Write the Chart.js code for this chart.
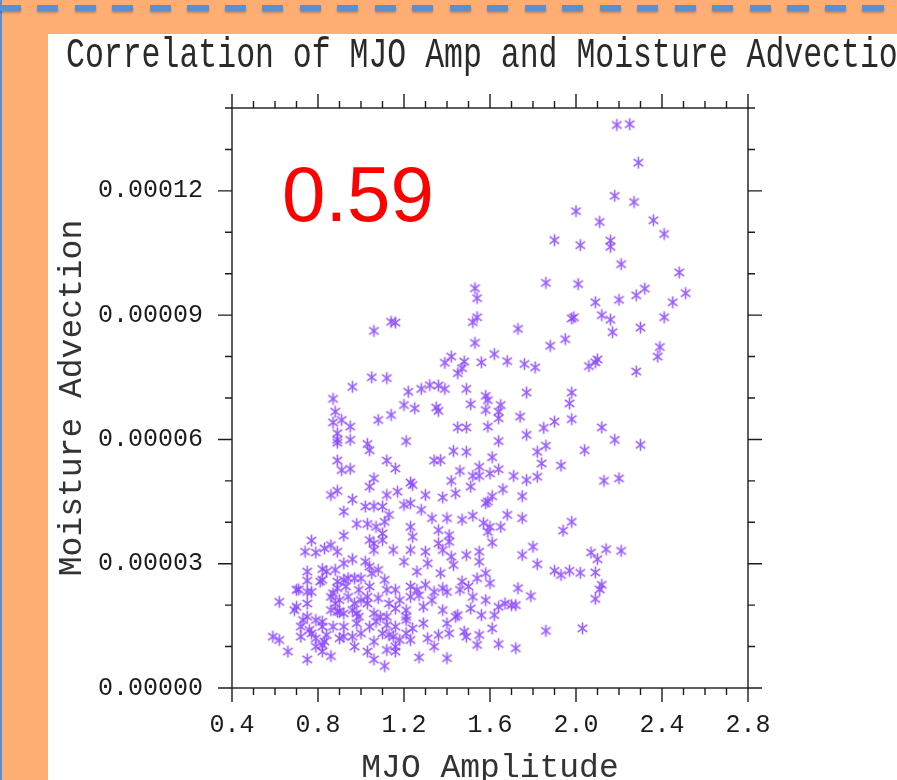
<!DOCTYPE html>
<html>
<head>
<meta charset="utf-8">
<script src="https://cdn.jsdelivr.net/npm/chart.js@4.4.1/dist/chart.umd.min.js"></script>
<style>
  html, body { margin: 0; padding: 0; width: 897px; height: 780px; overflow: hidden; background: #ffae73; }
  .edge { position: absolute; left: 0; top: 0; width: 2px; height: 780px; background: #5b8fd0; }
  .dash { position: absolute; left: 0; top: 5px; width: 897px; height: 6px;
          background: repeating-linear-gradient(to right, #5b8fd0 0 21px, transparent 21px 37.5px);
          filter: drop-shadow(0 2px 1px rgba(0,0,0,0.25)); }
  .panel { position: absolute; left: 48px; top: 34px; right: 0; bottom: 0; background: #fff; }
  canvas { position: absolute; left: 0; top: 0; }
</style>
</head>
<body>
<div class="panel"></div>
<div class="edge"></div>
<div class="dash"></div>
<canvas id="chart" width="897" height="800"></canvas>
<script>
// MJO amplitude (x) and moisture advection (y, in units of 1e-5)
const ADV_UNIT = 1e-5;

const mjoAmp = [
  // upper right
  2.19,2.25,2.29,2.18,2.27,2.00,2.11,2.36,2.41,1.90,
  2.02,2.16,2.16,2.21,2.48,1.86,2.01,2.32,2.28,2.51,
  2.20,2.09,2.45,1.53,1.54,1.54,1.52,1.73,1.98,1.99,
  2.12,2.16,2.41,2.30,2.17,1.53,1.95,1.88,2.39,2.38,
  1.62,1.42,1.39,1.48,1.47,1.45,1.56,1.68,1.76,1.81,
  2.06,2.09,2.10,2.28,
  1.06,1.14,1.16,
  // lower right
  1.77,1.98,1.97,1.98,1.90,1.85,2.12,2.18,2.30,1.77,
  1.86,1.82,2.04,1.84,1.93,1.82,1.77,2.13,2.20,1.98,
  1.94,1.80,1.82,1.90,1.93,1.97,2.02,2.07,2.14,2.21,
  2.10,2.09,2.12,2.11,2.09,1.79,1.86,2.03,
  // middle cluster
  1.22,1.28,1.32,1.36,1.39,1.49,1.58,1.59,1.20,1.25,
  1.35,1.36,1.51,1.58,1.65,1.64,1.64,1.74,1.45,1.49,
  1.59,1.21,1.64,1.43,1.49,1.34,1.37,1.61,1.16,1.46,
  1.55,1.52,1.55,1.60,1.64,1.71,1.23,1.24,1.42,1.17,
  1.51,1.66,1.61,1.75,1.20,1.23,1.30,1.38,1.44,1.58,
  1.59,1.68,1.28,1.33,1.40,1.47,1.52,1.57,1.75,1.23,
  1.36,1.60,1.65,1.59,1.41,1.24,1.61,1.36,1.41,1.15,
  1.23,1.30,1.38,1.49,1.55,1.75,1.20,1.31,1.42,1.55,
  1.26,1.43,1.37,1.58,1.47,1.54,1.60,1.73,1.16,1.23,
  1.26,1.30,1.38,1.40,1.46,1.50,1.52,1.58,1.33,1.34,
  1.18,1.23,1.27,1.67,1.70,1.72,1.64,1.16,1.21,1.29,
  1.38,1.45,1.51,1.56,1.62,1.21,1.29,1.40,1.44,1.16,
  1.24,1.48,1.61,1.41,1.36,1.49,1.55,1.15,1.31,1.34,
  1.54,1.64,1.72,1.16,1.23,1.16,1.27,1.40,
  // left cluster
  1.05,1.12,0.96,0.87,0.88,0.87,0.91,0.95,1.08,1.14,
  0.89,0.89,0.89,0.95,1.03,1.04,0.89,0.91,0.95,1.12,
  1.06,1.04,0.86,0.89,0.96,0.92,1.02,1.06,1.12,1.10,
  1.13,0.98,1.03,1.07,1.11,0.92,1.10,0.77,0.74,0.79,
  0.83,0.86,0.89,1.04,1.06,1.10,1.06,0.92,0.96,1.02,
  1.04,1.08,0.82,0.84,0.88,0.75,0.75,0.81,0.92,0.97,
  1.00,1.11,0.71,0.77,0.89,0.93,0.99,1.04,0.62,0.70,
  0.75,0.86,0.88,0.90,0.94,0.97,1.03,1.08,1.12,0.69,
  0.86,0.90,0.96,0.99,1.06,1.12,0.75,0.82,0.72,0.77,
  0.87,0.92,1.00,1.04,1.10,0.59,0.62,0.72,0.79,0.83,
  0.92,0.97,1.06,0.66,0.82,0.86,1.03,0.75,1.06,1.11,
  // dense core, lower left
  0.89,0.94,0.87,1.00,1.03,0.89,0.92,0.98,1.09,1.13,
  0.73,0.79,0.82,0.98,1.07,1.12,0.76,0.79,0.84,0.90,
  0.96,1.13,0.82,1.12,0.70,0.75,0.82,1.05,1.21,1.18,
  1.21
];

const moistAdv = [
  13.59,13.61,12.68,11.88,11.73,11.51,11.25,11.29,10.96,10.81,
  10.69,10.80,10.65,10.23,10.03,9.78,9.75,9.64,9.48,9.53,
  9.37,9.31,9.31,9.65,9.41,8.95,8.83,8.67,8.92,8.95,
  9.00,8.89,8.95,8.70,8.59,8.33,8.42,8.26,8.23,8.00,
  8.06,8.00,7.85,7.88,7.72,7.60,7.86,7.89,7.82,7.74,
  7.77,7.86,7.93,7.64,
  8.62,8.84,8.82,
  7.13,7.13,6.87,6.49,6.43,6.28,6.29,5.99,5.87,6.11,
  5.85,5.70,5.74,5.42,5.37,5.10,5.02,5.00,5.06,4.01,
  3.80,3.41,2.99,2.83,2.73,2.83,2.78,3.27,3.35,3.31,
  3.11,2.79,2.49,2.38,2.15,2.22,1.38,1.44,
  7.15,7.22,7.31,7.30,7.22,7.22,7.05,6.95,6.83,6.75,
  6.77,6.69,6.85,6.71,6.83,6.67,6.51,6.55,6.29,6.29,
  6.31,5.96,5.96,5.72,5.70,5.49,5.50,5.57,5.30,5.24,
  5.34,5.12,5.12,5.18,5.28,5.12,4.96,4.90,5.00,4.74,
  4.86,4.80,4.63,4.63,4.42,4.46,4.66,4.60,4.70,4.46,
  4.50,4.18,4.30,4.10,4.10,4.06,4.16,3.98,4.10,3.89,
  3.81,3.89,3.89,3.77,3.69,3.65,3.51,3.49,3.53,3.33,
  3.33,3.29,3.33,3.21,3.29,3.21,3.05,3.01,3.17,3.05,
  2.81,2.97,2.77,2.77,2.57,2.65,2.53,2.41,2.37,2.45,
  2.37,2.49,2.41,2.32,2.37,2.45,2.20,2.12,2.12,2.32,
  2.12,2.20,2.24,2.04,2.00,2.00,1.96,1.92,1.88,1.96,
  1.88,1.76,1.92,1.76,1.76,1.72,1.56,1.56,1.72,1.48,
  1.44,1.36,1.44,1.32,1.28,1.24,1.28,1.24,1.20,1.00,
  1.04,1.06,0.96,1.00,1.16,0.88,0.74,0.72,
  7.50,7.48,7.27,6.98,6.67,6.41,6.47,6.31,6.47,6.59,
  6.15,5.99,5.92,5.99,5.89,5.74,5.49,5.26,5.29,5.49,
  5.06,4.86,4.66,4.76,4.55,4.26,4.38,4.39,4.66,4.38,
  4.18,3.96,3.96,3.89,4.01,3.68,3.73,3.56,3.29,3.27,
  3.37,3.45,3.29,3.57,3.49,3.57,3.33,3.01,3.11,3.05,
  2.93,2.85,2.87,2.81,2.85,2.81,2.59,2.57,2.61,2.65,
  2.65,2.61,2.38,2.32,2.41,2.45,2.37,2.45,2.08,1.96,
  2.04,2.20,2.04,2.12,2.20,2.04,2.04,2.17,2.37,1.88,
  1.88,1.84,1.88,1.72,1.80,1.72,1.72,1.60,1.48,1.32,
  1.48,1.48,1.32,1.48,1.32,1.24,1.16,1.24,1.00,1.12,
  1.24,1.00,1.12,0.88,0.88,0.77,0.88,0.69,0.69,0.53,
  2.57,2.65,2.29,2.12,2.20,1.84,1.80,1.80,1.72,2.04,
  1.64,1.64,1.48,1.56,1.60,1.52,1.40,1.20,1.28,1.20,
  1.24,1.28,1.04,0.92,2.37,2.32,2.61,2.77,1.64,1.16,
  1.32
];

// axis ranges and ticks
const xMin = 0.4, xMax = 2.8, xMajor = 0.4, xMinor = 0.1;
const yMin = 0, yMax = 0.00014, yMajor = 0.00003, yMinor = 0.00001;
const titleText = 'Correlation of MJO Amp and Moisture Advection';
const corrText = '0.59';

const mono = '"Liberation Mono", "DejaVu Sans Mono", monospace';

// asterisk marker
const star = document.createElement('canvas');
star.width = 15; star.height = 15;
(function () {
  const c = star.getContext('2d');
  c.strokeStyle = 'rgba(136, 68, 255, 0.85)';
  c.lineWidth = 1.6;
  c.beginPath();
  [90, 38, 142].forEach(function (deg) {
    const r = deg * Math.PI / 180, dx = Math.cos(r) * 6, dy = Math.sin(r) * 6;
    c.moveTo(7.5 - dx, 7.5 - dy);
    c.lineTo(7.5 + dx, 7.5 + dy);
  });
  c.stroke();
})();

const frame = {
  id: 'frame',
  afterDraw(chart) {
    const {ctx, chartArea: a, scales: {x, y}} = chart;
    ctx.save();
    ctx.strokeStyle = '#1c1c1c';
    ctx.lineWidth = 1.4;
    ctx.strokeRect(a.left, a.top, a.width, a.height);
    ctx.beginPath();
    const nx = Math.round((xMax - xMin) / xMinor);
    const perX = Math.round(xMajor / xMinor);
    for (let i = 0; i <= nx; i++) {
      const px = x.getPixelForValue(xMin + i * xMinor);
      const len = i % perX === 0 ? 14 : 7;
      ctx.moveTo(px, a.bottom); ctx.lineTo(px, a.bottom + len);
      ctx.moveTo(px, a.top); ctx.lineTo(px, a.top - len);
    }
    const ny = Math.round((yMax - yMin) / yMinor);
    const perY = Math.round(yMajor / yMinor);
    for (let i = 0; i <= ny; i++) {
      const py = y.getPixelForValue(yMin + i * yMinor);
      const len = i % perY === 0 ? 14 : 7;
      ctx.moveTo(a.left, py); ctx.lineTo(a.left - len, py);
      ctx.moveTo(a.right, py); ctx.lineTo(a.right + len, py);
    }
    ctx.stroke();

    // title, narrow like the original
    ctx.fillStyle = '#2a2a2a';
    ctx.textBaseline = 'alphabetic';
    ctx.save();
    ctx.translate(66, 67);
    ctx.scale(0.75, 1);
    ctx.font = '42px ' + mono;
    ctx.fillText(titleText, 0, 0);
    ctx.restore();

    // correlation value
    ctx.fillStyle = '#ff0000';
    ctx.font = '78px "Liberation Sans", Arial, sans-serif';
    ctx.fillText(corrText, a.left + 50, a.top + 113);
    ctx.restore();
  }
};

new Chart(document.getElementById('chart'), {
  type: 'scatter',
  data: {
    datasets: [{
      data: mjoAmp.map((v, i) => ({x: v, y: moistAdv[i] * ADV_UNIT})),
      pointStyle: star,
      pointRadius: 6,
      pointHoverRadius: 6
    }]
  },
  options: {
    responsive: false,
    animation: false,
    events: [],
    layout: { padding: { left: 0, top: 108, right: 149, bottom: 0 } },
    plugins: { legend: { display: false }, tooltip: { enabled: false } },
    scales: {
      x: {
        type: 'linear',
        min: xMin, max: xMax,
        afterFit: s => { s.height = 112; },
        grid: { display: false, drawTicks: false },
        border: { display: false },
        ticks: {
          stepSize: xMajor,
          padding: 22,
          color: '#1c1c1c',
          font: { family: mono, size: 25 },
          callback: v => v.toFixed(1)
        },
        title: {
          display: true,
          text: 'MJO Amplitude',
          color: '#333',
          font: { family: mono, size: 33 },
          padding: { top: 0, bottom: 12 }
        }
      },
      y: {
        type: 'linear',
        min: yMin, max: yMax,
        afterFit: s => { s.width = 232; },
        grid: { display: false, drawTicks: false },
        border: { display: false },
        ticks: {
          stepSize: yMajor,
          padding: 29,
          color: '#1c1c1c',
          font: { family: mono, size: 25 },
          callback: v => {
            const k = v / yMajor;
            return Math.abs(k - Math.round(k)) < 1e-6 ? v.toFixed(5) : '';
          }
        },
        title: {
          display: true,
          text: 'Moisture Advection',
          color: '#333',
          font: { family: mono, size: 33 },
          padding: { top: 52, bottom: 0 }
        }
      }
    }
  },
  plugins: [frame]
});
</script>
</body>
</html>
